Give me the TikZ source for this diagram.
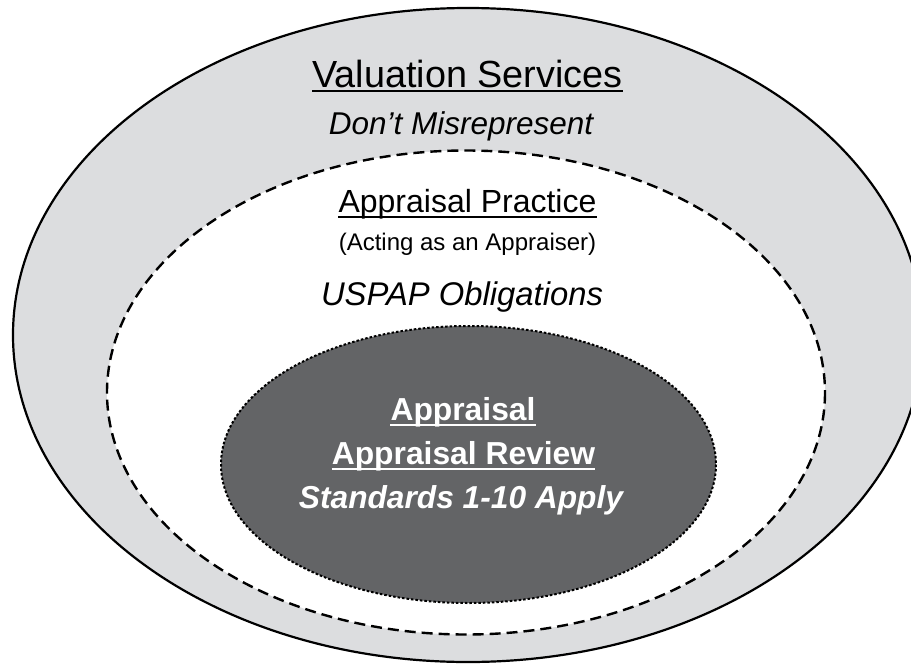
\documentclass[tikz,border=0pt]{standalone}
\usepackage{fontspec}
\setmainfont{Liberation Sans}
\definecolor{outerfill}{HTML}{DCDDDF}
\definecolor{darkfill}{HTML}{636466}
\begin{document}
\begin{tikzpicture}[x=1pt,y=-1pt,
  lbl/.style={inner sep=0pt, anchor=base},
  big/.style={font=\fontsize{37.8}{42}\selectfont},
  mid/.style={font=\fontsize{32}{36}\selectfont},
  miditl/.style={font=\fontsize{31.5}{36}\selectfont\itshape},
  uspap/.style={font=\fontsize{32.8}{36}\selectfont\itshape},
  small/.style={font=\fontsize{24}{28}\selectfont},
  boldw/.style={font=\fontsize{31.8}{36}\selectfont\bfseries, text=white},
  bolditw/.style={font=\fontsize{31.7}{36}\selectfont\bfseries\itshape, text=white},
  ulblack/.style={line width=2.2pt, black},
  ulwhite/.style={line width=2.2pt, white}]
\useasboundingbox (0,0) rectangle (911,664);
\clip (0,0) rectangle (911,664);
% ellipses
\draw[line width=2.2pt, fill=outerfill] (468,335) ellipse [x radius=455, y radius=327];
\draw[line width=2.4pt, fill=white, dash pattern=on 11pt off 6pt] (466,392.5) ellipse [x radius=359, y radius=242];
\draw[line width=2pt, fill=darkfill, dash pattern=on 2.5pt off 2pt] (468.5,464.5) ellipse [x radius=247.5, y radius=138.5];
% texts
\node[lbl, big] (vs) at (467.5,87) {Valuation Services};
\draw[ulblack] ([yshift=-4pt]vs.base west) -- ([yshift=-4pt]vs.base east);
\node[lbl, miditl] (dm) at (461,134) {Don’t Misrepresent};
\node[lbl, mid] (ap) at (467.5,212) {Appraisal Practice};
\draw[ulblack] ([yshift=-5pt]ap.base west) -- ([yshift=-5pt]ap.base east);
\node[lbl, small] (aa) at (467.5,250) {(Acting as an Appraiser)};
\node[lbl, uspap] (uo) at (462,305) {USPAP Obligations};
\node[lbl, boldw] (a1) at (463,420) {Appraisal};
\draw[ulwhite] ([yshift=-5pt]a1.base west) -- ([yshift=-5pt]a1.base east);
\node[lbl, boldw] (ar) at (463.5,464) {Appraisal Review};
\draw[ulwhite] ([yshift=-5pt]ar.base west) -- ([yshift=-5pt]ar.base east);
\node[lbl, bolditw] (st) at (461,508) {Standards 1-10 Apply};
\end{tikzpicture}
\end{document}
